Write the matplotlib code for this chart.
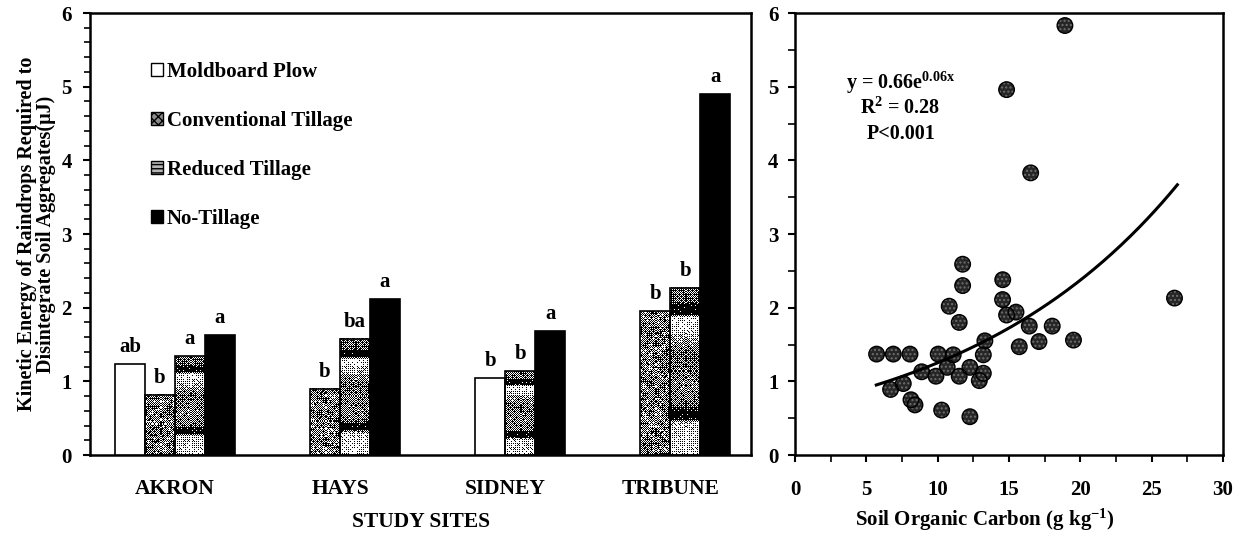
import numpy as np
import matplotlib
matplotlib.use('Agg')
import matplotlib.pyplot as plt
from matplotlib.patches import Patch
from matplotlib.ticker import MultipleLocator

plt.rcParams['font.family'] = ['Liberation Serif', 'DejaVu Serif']
plt.rcParams['font.weight'] = 'bold'
plt.rcParams['mathtext.fontset'] = 'custom'
plt.rcParams['mathtext.rm'] = 'Liberation Serif:bold'
plt.rcParams['mathtext.it'] = 'Liberation Serif:bold'
plt.rcParams['mathtext.bf'] = 'Liberation Serif:bold'

# raindrop energy by site and tillage
sites = ['AKRON', 'HAYS', 'SIDNEY', 'TRIBUNE']
treatments = ['Moldboard Plow', 'Conventional Tillage', 'Reduced Tillage', 'No-Tillage']
moldboard = [1.23, np.nan, 1.05, np.nan]
conventional = [0.82, 0.90, np.nan, 1.95]
reduced = [1.34, 1.58, 1.14, 2.27]
no_till = [1.63, 2.12, 1.69, 4.90]
moldboard_sig = ['ab', '', 'b', '']
conventional_sig = ['b', 'b', '', 'b']
reduced_sig = ['a', 'ba', 'b', 'b']
no_till_sig = ['a', 'a', 'a', 'a']

# energy vs soil organic carbon
soc = [5.72, 6.89, 8.06, 6.70, 7.59, 8.13, 8.41, 8.88, 9.88, 10.04, 10.28, 10.67,
       11.09, 10.81, 11.51, 11.51, 12.26, 12.26, 12.92, 13.20, 13.20, 13.31, 14.55,
       14.83, 15.49, 15.72, 16.42, 17.10, 18.03, 14.56, 11.75, 11.75, 19.52, 26.60,
       18.92, 14.83, 16.52]
energy = [1.37, 1.37, 1.37, 0.89, 0.97, 0.75, 0.68, 1.13, 1.07, 1.37, 0.61, 1.19,
          1.36, 2.02, 1.80, 1.07, 0.52, 1.19, 1.01, 1.11, 1.36, 1.55, 2.11,
          1.90, 1.94, 1.47, 1.75, 1.54, 1.75, 2.38, 2.59, 2.30, 1.56, 2.13,
          5.83, 4.96, 3.83]
fit_a = 0.66
fit_b = 0.064
fit_r2 = 0.28
fit_p = '<0.001'
fit_range = [5.7, 26.8]

fig = plt.figure(figsize=(12.41, 5.33), dpi=100)
ax1 = fig.add_axes([0.0725, 0.1463, 0.5327, 0.8293])
ax2 = fig.add_axes([0.6406, 0.1463, 0.3449, 0.8293])

# halftone fills for the patterned bars
bayer = np.array([[0, 8, 2, 10], [12, 4, 14, 6], [3, 11, 1, 9], [15, 7, 13, 5]]) / 16.0 + 1 / 32.0


def dither(gray):
    ny, nx = gray.shape
    thr = np.tile(bayer, (ny // 4 + 1, nx // 4 + 1))[:ny, :nx]
    return (gray > thr).astype(float)


def grain(xx, yy):
    v = np.sin(xx * 12.9898 + yy * 78.233) * 43758.5453
    return v - np.floor(v)


def speckle(nx, ny, k):
    yy, xx = np.mgrid[0:ny, 0:nx]
    fine = grain(xx + 41 * k, yy)
    coarse = grain((xx + 41 * k) // 3, yy // 3)
    return 0.08 + 0.4 * coarse + 0.34 * fine


band_t = [0.0, 0.19, 0.22, 0.26, 0.30, 0.40, 0.60, 0.78, 0.82, 0.84, 0.89, 0.91, 1.0]
band_v = [0.80, 0.76, 0.03, 0.03, 0.40, 0.50, 0.36, 0.88, 0.82, 0.03, 0.03, 0.36, 0.40]


def bands(nx, ny, k):
    yy, xx = np.mgrid[0:ny, 0:nx]
    t = (yy + 0.5) / ny
    return np.interp(t, band_t, band_v) + 0.25 * (grain(xx + 53 * k, yy) - 0.5)


xmin, xmax = -0.515, 3.49
w = 30 / 165.0
slots = np.array([-1.5, -0.5, 0.5, 1.5]) * w
px_y = fig.dpi * fig.get_figheight() * ax1.get_position().height / 6.0
px_x = fig.dpi * fig.get_figwidth() * ax1.get_position().width / (xmax - xmin)


def textured_bar(x, h, tex, k):
    nx = max(int(round(w * px_x)), 4)
    ny = max(int(round(h * px_y)), 4)
    img = dither(tex(nx, ny, k))
    ax1.imshow(img, extent=[x - w / 2, x + w / 2, 0, h], origin='lower', cmap='gray',
               vmin=0, vmax=1, interpolation='nearest', aspect='auto', zorder=2)
    ax1.bar(x, h, w, facecolor='none', edgecolor='black', linewidth=1.2, zorder=3)


def sig_label(x, h, s):
    if s:
        ax1.annotate(s, (x, h), xytext=(0, 5), textcoords='offset points',
                     ha='center', va='bottom', fontsize=15, fontweight='bold')


for i in range(len(sites)):
    # moldboard bar moves into the empty conventional slot
    mp_x = i + (slots[1] if np.isnan(conventional[i]) else slots[0])
    if not np.isnan(moldboard[i]):
        ax1.bar(mp_x, moldboard[i], w, facecolor='white', edgecolor='black', linewidth=1.2, zorder=3)
        sig_label(mp_x, moldboard[i], moldboard_sig[i])
    if not np.isnan(conventional[i]):
        textured_bar(i + slots[1], conventional[i], speckle, i)
        sig_label(i + slots[1], conventional[i], conventional_sig[i])
    textured_bar(i + slots[2], reduced[i], bands, i)
    sig_label(i + slots[2], reduced[i], reduced_sig[i])
    ax1.bar(i + slots[3], no_till[i], w, facecolor='black', edgecolor='black', linewidth=1.2, zorder=3)
    sig_label(i + slots[3], no_till[i], no_till_sig[i])

ax1.set_xlim(xmin, xmax)
ax1.set_ylim(0, 6)
ax1.set_xticks(range(len(sites)))
ax1.set_xticklabels(sites, fontsize=15.5, fontweight='bold')
ax1.tick_params(axis='x', length=0, pad=17)
ax1.yaxis.set_major_locator(MultipleLocator(1))
ax1.yaxis.set_minor_locator(MultipleLocator(0.2))
ax1.tick_params(axis='y', which='major', direction='out', length=5, width=1.5, labelsize=15, pad=8)
ax1.tick_params(axis='y', which='minor', direction='out', length=4, width=1.2)
for lab in ax1.get_yticklabels():
    lab.set_fontweight('bold')
for sp in ax1.spines.values():
    sp.set_linewidth(1.8)
ax1.set_xlabel('STUDY SITES', fontsize=15.5, fontweight='bold')
ax1.xaxis.set_label_coords(0.5, -0.128)
ax1.set_ylabel('Kinetic Energy of Raindrops Required to\nDisintegrate Soil Aggregates(\u03bcJ)',
               fontsize=14.5, fontweight='bold', labelpad=4, linespacing=0.92)

handles = [Patch(facecolor='white', edgecolor='black'),
           Patch(facecolor='#8c8c8c', edgecolor='black', hatch='xxxx'),
           Patch(facecolor='#b5b5b5', edgecolor='black', hatch='----'),
           Patch(facecolor='black', edgecolor='black')]
leg = ax1.legend(handles, treatments, loc='upper left', bbox_to_anchor=(0.093, 0.89),
                 frameon=False, fontsize=15, handlelength=0.55, handleheight=0.55,
                 handletextpad=0.2, labelspacing=1.4, borderpad=0, borderaxespad=0)
for t in leg.get_texts():
    t.set_fontweight('bold')

# scatter with exponential fit
ax2.scatter(soc, energy, s=125, facecolor='#262626', edgecolor='#6e6e6e', hatch='....',
            linewidth=0, zorder=3)
ax2.scatter(soc, energy, s=125, facecolor='none', edgecolor='black', linewidth=1.0, zorder=4)
xf = np.linspace(fit_range[0], fit_range[1], 200)
ax2.plot(xf, fit_a * np.exp(fit_b * xf), color='black', linewidth=2.2, zorder=5)
ax2.text(7.4, 4.97, 'y = %.2fe$^{%.2fx}$' % (fit_a, fit_b), ha='center', va='baseline',
         fontsize=14.5, fontweight='bold')
ax2.text(7.4, 4.63, 'R$^{2}$ = %.2f' % fit_r2, ha='center', va='baseline',
         fontsize=14.5, fontweight='bold')
ax2.text(7.4, 4.29, 'P' + fit_p, ha='center', va='baseline', fontsize=14.5, fontweight='bold')

ax2.set_xlim(0, 30)
ax2.set_ylim(0, 6)
ax2.xaxis.set_major_locator(MultipleLocator(5))
ax2.xaxis.set_minor_locator(MultipleLocator(2.5))
ax2.yaxis.set_major_locator(MultipleLocator(1))
ax2.yaxis.set_minor_locator(MultipleLocator(0.5))
ax2.tick_params(which='major', direction='out', length=5, width=1.5, labelsize=15)
ax2.tick_params(which='minor', direction='out', length=5, width=1.2)
ax2.tick_params(axis='x', which='major', pad=13)
ax2.tick_params(axis='y', which='major', pad=7)
for lab in ax2.get_xticklabels() + ax2.get_yticklabels():
    lab.set_fontweight('bold')
for sp in ax2.spines.values():
    sp.set_linewidth(1.8)
ax2.set_xlabel('Soil Organic Carbon (g kg$^{-1}$)', fontsize=15, fontweight='bold')
ax2.xaxis.set_label_coords(0.444, -0.118)

fig.savefig('out.png', dpi=100)
